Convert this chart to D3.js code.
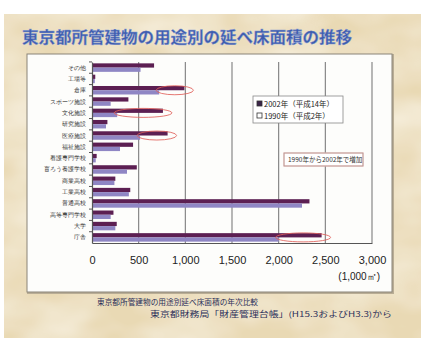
<!DOCTYPE html>
<html>
<head>
<meta charset="utf-8">
<script src="https://cdn.jsdelivr.net/npm/d3@7"></script>
<style>
  html, body { margin: 0; padding: 0; background: #ffffff; }
  svg { display: block; font-family: "Noto Sans CJK JP", "Noto Sans", sans-serif; }
</style>
</head>
<body>
<svg id="chart" width="429" height="338"></svg>
<script>
// 用途別の延べ床面積（単位：1,000㎡）
const categories = [
  "その他", "工場等", "倉庫", "スポーツ施設", "文化施設", "研究施設",
  "医療施設", "福祉施設", "看護専門学校", "盲ろう養護学校", "商業高校",
  "工業高校", "普通高校", "高等専門学校", "大学", "庁舎"
];
const values2002 = [665, 35, 990, 390, 760, 165, 810, 440, 50, 480, 250, 410, 2330, 230, 265, 2460];
const values1990 = [520, 30, 720, 200, 270, 150, 515, 300, 40, 375, 240, 395, 2250, 200, 250, 2000];
const seriesNames = ["2002年（平成14年）", "1990年（平成2年）"];
const tickValues = [0, 500, 1000, 1500, 2000, 2500, 3000];
const tickLabels = ["0", "500", "1,000", "1,500", "2,000", "2,500", "3,000"];
const highlighted = ["倉庫", "文化施設", "医療施設", "庁舎"];

const svg = d3.select("#chart");
const defs = svg.append("defs");

// parchment background texture
const tex = defs.append("filter").attr("id", "paper").attr("x", 0).attr("y", 0).attr("width", 1).attr("height", 1);
tex.append("feTurbulence").attr("type", "fractalNoise").attr("baseFrequency", "0.012 0.02").attr("numOctaves", 3).attr("seed", 7).attr("result", "n");
tex.append("feColorMatrix").attr("in", "n").attr("type", "matrix")
  .attr("values", "0 0 0 0 0.99  0 0 0 0 0.96  0 0 0 0 0.88  1.1 0 0 0 -0.35").attr("result", "c");
tex.append("feComposite").attr("in", "c").attr("in2", "SourceGraphic").attr("operator", "atop");

svg.append("rect").attr("x", 4).attr("y", 14).attr("width", 417).attr("height", 324).attr("fill", "#e9d9b4");
svg.append("rect").attr("x", 4).attr("y", 14).attr("width", 417).attr("height", 324).attr("fill", "#e9d9b4").attr("filter", "url(#paper)");

// title
svg.append("text")
  .attr("x", 22).attr("y", 43)
  .attr("font-size", 16.3).attr("font-weight", "bold")
  .attr("fill", "#3e5cad").attr("stroke", "#8ea2d6").attr("stroke-width", 0.4)
  .attr("textLength", 330).attr("lengthAdjust", "spacingAndGlyphs")
  .text("東京都所管建物の用途別の延べ床面積の推移");

// white chart panel
svg.append("rect").attr("x", 28).attr("y", 55).attr("width", 365).attr("height", 238)
  .attr("fill", "none").attr("stroke", "#b9ad95").attr("stroke-width", 2);
svg.append("rect").attr("x", 27).attr("y", 54).attr("width", 365).attr("height", 238)
  .attr("fill", "#fdfdfb").attr("stroke", "#8a8478").attr("stroke-width", 1);

const x = d3.scaleLinear().domain([0, 3000]).range([92, 372]);
const y = d3.scaleBand().domain(categories).range([62, 243]).paddingInner(0.25).paddingOuter(0.12);
const plotTop = 62, plotBottom = 243;

// vertical grid lines
svg.append("g").selectAll("line").data(tickValues.slice(1)).join("line")
  .attr("x1", d => x(d)).attr("x2", d => x(d))
  .attr("y1", plotTop).attr("y2", plotBottom)
  .attr("stroke", "#7d7d7d").attr("stroke-width", 1.1);

// bars: 2002 on top, 1990 below
const bh = y.bandwidth() / 2;
const rows = svg.append("g").selectAll("g").data(categories).join("g");
rows.append("rect")
  .attr("x", x(0)).attr("y", d => y(d))
  .attr("width", (d, i) => x(values2002[i]) - x(0)).attr("height", bh)
  .attr("fill", "#5c1f52");
rows.append("rect")
  .attr("x", x(0)).attr("y", d => y(d) + bh)
  .attr("width", (d, i) => x(values1990[i]) - x(0)).attr("height", bh)
  .attr("fill", "#8f86c4");

// axes
const xAxis = d3.axisBottom(x).tickValues(tickValues).tickFormat((d, i) => tickLabels[i]).tickSize(0).tickPadding(13);
const gx = svg.append("g").attr("transform", `translate(0,${plotBottom})`).call(xAxis);
gx.select(".domain").attr("stroke", "#555").attr("stroke-width", 1.2);
gx.selectAll("text").attr("font-size", 11).attr("fill", "#222").attr("font-family", "Liberation Sans, Arial, sans-serif");

const yAxis = d3.axisLeft(y).tickSize(0).tickPadding(6);
const gy = svg.append("g").attr("transform", `translate(${x(0)},0)`).call(yAxis);
gy.select(".domain").attr("stroke", "#555").attr("stroke-width", 1.2);
gy.selectAll("text").attr("font-size", 6.2).attr("fill", "#333");
// small separators between categories
svg.append("g").selectAll("line").data(categories).join("line")
  .attr("x1", x(0) - 3).attr("x2", x(0))
  .attr("y1", d => y(d) - y.step() * y.paddingInner() / 2)
  .attr("y2", d => y(d) - y.step() * y.paddingInner() / 2)
  .attr("stroke", "#555");

// unit label
svg.append("text").attr("x", 380).attr("y", 280).attr("text-anchor", "end")
  .attr("font-size", 10).attr("fill", "#222").attr("font-family", "Liberation Sans, Arial, sans-serif")
  .text("(1,000㎡)");

// red ellipses around growth between 1990 and 2002
svg.append("g").selectAll("ellipse").data(highlighted).join("ellipse")
  .attr("cx", d => { const i = categories.indexOf(d); return (x(values1990[i]) + x(values2002[i])) / 2 + 3; })
  .attr("cy", d => y(d) + bh)
  .attr("rx", d => { const i = categories.indexOf(d); return (x(values2002[i]) - x(values1990[i])) / 2 + 6; })
  .attr("ry", 4.5)
  .attr("fill", "none").attr("stroke", "#e0605a").attr("stroke-width", 1).attr("opacity", 0.85);

// legend
const lg = svg.append("g").attr("transform", "translate(253,96)");
lg.append("rect").attr("width", 90).attr("height", 27).attr("fill", "#fff").attr("stroke", "#888").attr("stroke-width", 0.8);
const legendColors = ["#3b2448", "#ffffff"];
seriesNames.forEach((name, i) => {
  lg.append("rect").attr("x", 4).attr("y", 5 + i * 12).attr("width", 5).attr("height", 5)
    .attr("fill", legendColors[i]).attr("stroke", "#333").attr("stroke-width", 0.8);
  lg.append("text").attr("x", 11).attr("y", 11 + i * 12).attr("font-size", 7.5).attr("fill", "#222")
    .text(name);
});

// note box
const nb = svg.append("g").attr("transform", "translate(284,153)");
nb.append("rect").attr("width", 79).attr("height", 13).attr("fill", "#fff").attr("stroke", "#f0b0a8").attr("stroke-width", 1.2);
nb.append("rect").attr("width", 79).attr("height", 13).attr("fill", "none").attr("stroke", "#999").attr("stroke-width", 0.6);
nb.append("text").attr("x", 4).attr("y", 9).attr("font-size", 6.5).attr("fill", "#333")
  .text("1990年から2002年で増加");

// source notes
svg.append("text").attr("x", 97).attr("y", 305).attr("font-size", 7.6).attr("fill", "#2b2f5a")
  .attr("textLength", 161).attr("lengthAdjust", "spacingAndGlyphs")
  .text("東京都所管建物の用途別延べ床面積の年次比較");
svg.append("text").attr("x", 150).attr("y", 317).attr("font-size", 7.6).attr("fill", "#2b2f5a")
  .attr("textLength", 242).attr("lengthAdjust", "spacingAndGlyphs")
  .text("東京都財務局「財産管理台帳」(H15.3およびH3.3)から");
</script>
</body>
</html>
